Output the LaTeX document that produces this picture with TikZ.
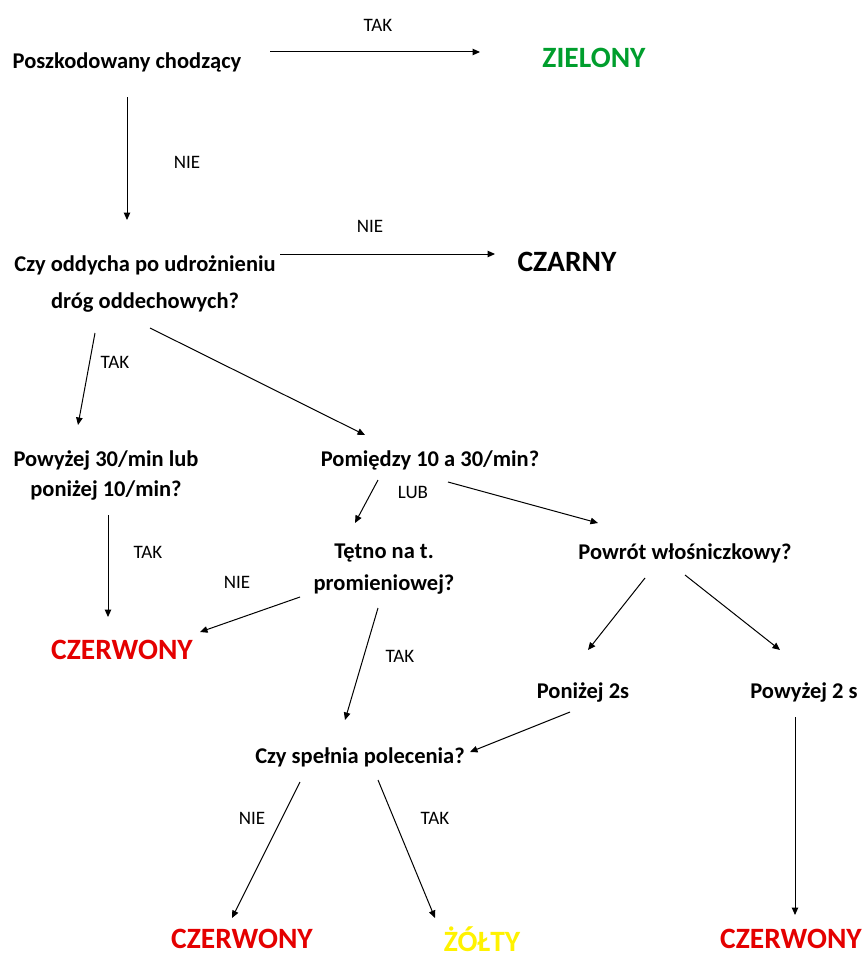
\documentclass[tikz,border=0pt]{standalone}
\usepackage{fontspec}
\setmainfont{Carlito}
\usetikzlibrary{arrows.meta}
\definecolor{zielony}{RGB}{0,158,45}
\definecolor{czerwony}{RGB}{228,0,0}
\definecolor{zolty}{RGB}{255,242,0}
\tikzset{
  pytanie/.style={font=\bfseries\fontsize{22.5}{30}\selectfont, align=center, inner sep=0pt},
  wynik/.style={font=\bfseries\fontsize{29.5}{30}\selectfont, inner sep=0pt},
  odp/.style={font=\fontsize{19}{20}\selectfont, inner sep=0pt},
  strz/.style={line width=1pt, -{Triangle[length=7.5pt,width=6.5pt]}}
}

\begin{document}
\begin{tikzpicture}[x=1pt,y=1pt]
			%%%%% START %%%%%
			\useasboundingbox (0,0) rectangle (865,-958);
			
			\node[pytanie] (pos) at (127,-62) {Poszkodowany chodzący};
			\node[wynik, text=zielony] (zie) at (594,-58) {ZIELONY};
			\node[odp] (tak1) at (378,-25) {TAK};
			\draw[strz] ([shift={(143,10)}]pos.center) -- ([shift={(-114,6)}]zie.center);
			
			\node[pytanie, font=\bfseries\fontsize{22.5}{37}\selectfont] (odd) at (145,-284) {Czy oddycha po udrożnieniu\\dróg oddechowych?};
			\node[odp] (nie1) at (187,-162) {NIE};
			\draw[strz] ([shift={(0,-35)}]pos.center) -- ([shift={(-18,64)}]odd.center);
			
			\node[wynik] (cza) at (567,-262) {CZARNY};
			\node[odp] (nie2) at (370,-226) {NIE};
			\draw[strz] ([shift={(135,30)}]odd.center) -- ([shift={(-72,8)}]cza.center);
			
			\node[pytanie] (p30) at (106,-475) {Powyżej 30/min lub\\poniżej 10/min?};
			\node[pytanie] (p10) at (430,-460) {Pomiędzy 10 a 30/min?};
			\node[odp] (tak2) at (115,-362) {TAK};
			\draw[strz] ([shift={(-50,-49)}]odd.center) -- ([shift={(-28,50)}]p30.center);
			\draw[strz] ([shift={(5,-44)}]odd.center) -- ([shift={(-65,25)}]p10.center);
			
			\node[pytanie, font=\bfseries\fontsize{22.5}{32}\selectfont] (tet) at (384,-569) {Tętno na t.\\promieniowej?};
			\node[pytanie] (kap) at (685,-553) {Powrót włośniczkowy?};
			\node[odp] (lub) at (413,-492) {LUB};
			\draw[strz] ([shift={(-52,-20)}]p10.center) -- ([shift={(-29,46)}]tet.center);
			\draw[strz] ([shift={(18,-22)}]p10.center) -- ([shift={(-87,30)}]kap.center);
			
			\node[wynik, text=czerwony] (cz1) at (122,-650) {CZERWONY};
			\node[odp] (tak3) at (148,-552) {TAK};
			\node[odp] (nie3) at (237,-582) {NIE};
			\draw[strz] ([shift={(2,-40)}]p30.center) -- ([shift={(-14,33)}]cz1.center);
			\draw[strz] ([shift={(-84,-28)}]tet.center) -- ([shift={(78,18)}]cz1.center);
			
			\node[pytanie] (pol) at (360,-757) {Czy spełnia polecenia?};
			\node[odp] (tak4) at (400,-656) {TAK};
			\draw[strz] ([shift={(-6,-39)}]tet.center) -- ([shift={(-15,37)}]pol.center);
			
			\node[pytanie] (pon) at (583,-692) {Poniżej 2s};
			\node[pytanie] (pow) at (804,-692) {Powyżej 2 s};
			\draw[strz] ([shift={(-40,-25)}]kap.center) -- ([shift={(5,42)}]pon.center);
			\draw[strz] ([shift={(0,-22)}]kap.center) -- ([shift={(-24,42)}]pow.center);
			\draw[strz] ([shift={(-13,-20)}]pon.center) -- ([shift={(110,5)}]pol.center);
			
			\node[wynik, text=czerwony] (cz2) at (242,-939) {CZERWONY};
			\node[wynik, text=zolty] (zol) at (482,-939) {ŻÓŁTY};
			\node[wynik, text=czerwony] (cz3) at (791,-939) {CZERWONY};
			\node[odp] (nie4) at (252,-818) {NIE};
			\node[odp] (tak5) at (435,-818) {TAK};
			\draw[strz] ([shift={(-60,-25)}]pol.center) -- ([shift={(-10,21)}]cz2.center);
			\draw[strz] ([shift={(18,-23)}]pol.center) -- ([shift={(-47,21)}]zol.center);
			\draw[strz] ([shift={(-9,-25)}]pow.center) -- ([shift={(4,24)}]cz3.center);
			
			%%%%% END %%%%%
\end{tikzpicture}
\end{document}
